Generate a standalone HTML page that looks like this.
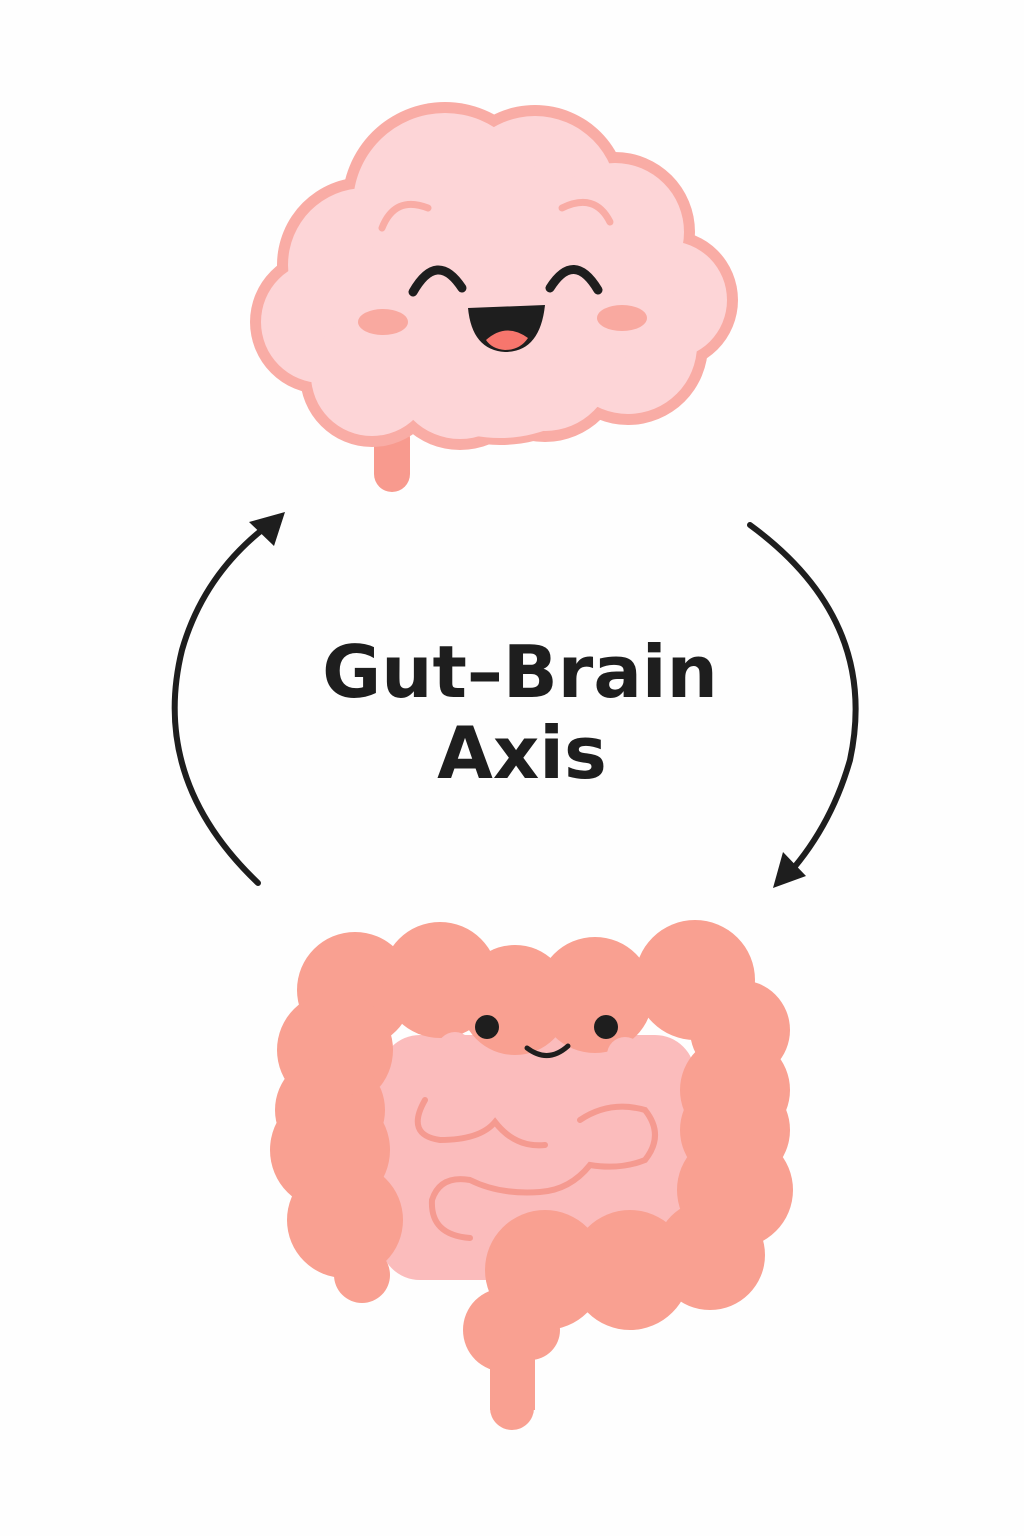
<!DOCTYPE html>
<html><head><meta charset="utf-8"><style>
html,body{margin:0;padding:0;background:#fefefe;}
svg{display:block;}
</style></head><body>
<svg width="1024" height="1536" viewBox="0 0 1024 1536" xmlns="http://www.w3.org/2000/svg">
<rect width="1024" height="1536" fill="#fefefe"/>
<rect x="374" y="420" width="36" height="72" rx="18" fill="#f89a8e"/>
<g fill="#f9aca5">
<circle cx="445" cy="205" r="103"/><circle cx="535" cy="198" r="93"/><circle cx="615" cy="232" r="80"/>
<circle cx="365" cy="265" r="88"/><circle cx="322" cy="322" r="72"/><circle cx="668" cy="300" r="70"/>
<circle cx="372" cy="375" r="72"/><circle cx="460" cy="372" r="78"/><circle cx="545" cy="362" r="80"/>
<circle cx="628" cy="345" r="80"/><circle cx="500" cy="300" r="145"/>
</g>
<g fill="#fdd5d7">
<circle cx="445" cy="205" r="92"/><circle cx="535" cy="198" r="82"/><circle cx="615" cy="232" r="69"/>
<circle cx="365" cy="265" r="77"/><circle cx="322" cy="322" r="61"/><circle cx="668" cy="300" r="59"/>
<circle cx="372" cy="375" r="61"/><circle cx="460" cy="372" r="67"/><circle cx="545" cy="362" r="69"/>
<circle cx="628" cy="345" r="69"/><circle cx="500" cy="300" r="138"/>
</g>
<path d="M382 228 Q395 195 428 208" fill="none" stroke="#f9aca5" stroke-width="7" stroke-linecap="round"/>
<path d="M562 208 Q595 192 610 222" fill="none" stroke="#f9aca5" stroke-width="7" stroke-linecap="round"/>
<path d="M413 292 Q437 250 462 288" fill="none" stroke="#1e1e1e" stroke-width="9" stroke-linecap="round"/>
<path d="M550 288 Q574 250 598 290" fill="none" stroke="#1e1e1e" stroke-width="9" stroke-linecap="round"/>
<ellipse cx="383" cy="322" rx="25" ry="13" fill="#f9a9a0"/>
<ellipse cx="622" cy="318" rx="25" ry="13" fill="#f9a9a0"/>
<path d="M468 308 L545 305 Q540 352 505 352 Q472 350 468 308 Z" fill="#1e1e1e"/>
<path d="M486 340 Q506 322 528 338 Q520 350 505 350 Q492 349 486 340Z" fill="#f7766d"/>
<path d="M258 883 Q150 780 182 650 Q205 570 275 520" fill="none" stroke="#1e1e1e" stroke-width="6" stroke-linecap="round"/>
<polygon points="285,512 249,522 274,546" fill="#1e1e1e"/>
<path d="M750 525 Q880 620 850 760 Q830 830 783 880" fill="none" stroke="#1e1e1e" stroke-width="6" stroke-linecap="round"/>
<polygon points="773,888 806,876 783,852" fill="#1e1e1e"/>
<text x="520" y="697" text-anchor="middle" font-family="'DejaVu Sans','Liberation Sans',sans-serif" font-weight="bold" font-size="72" fill="#1e1e1e">Gut–Brain</text>
<text x="522" y="778" text-anchor="middle" font-family="'DejaVu Sans','Liberation Sans',sans-serif" font-weight="bold" font-size="72" fill="#1e1e1e">Axis</text>
<rect x="380" y="1035" width="315" height="245" rx="40" fill="#fbbcbc"/>
<g fill="#f9a091">
<circle cx="355" cy="990" r="58"/><circle cx="440" cy="980" r="58"/><circle cx="515" cy="1000" r="55"/>
<circle cx="595" cy="995" r="58"/><circle cx="695" cy="980" r="60"/><circle cx="740" cy="1030" r="50"/>
<circle cx="335" cy="1050" r="58"/><circle cx="330" cy="1110" r="55"/><circle cx="330" cy="1150" r="60"/>
<circle cx="345" cy="1220" r="58"/><circle cx="362" cy="1275" r="28"/>
<circle cx="735" cy="1090" r="55"/><circle cx="735" cy="1130" r="55"/><circle cx="735" cy="1190" r="58"/><circle cx="710" cy="1255" r="55"/>
<circle cx="630" cy="1270" r="60"/><circle cx="545" cy="1270" r="60"/><circle cx="505" cy="1330" r="42"/>
<circle cx="530" cy="1330" r="30"/>
<rect x="400" y="960" width="320" height="50"/>
<rect x="490" y="1340" width="45" height="70"/>
<circle cx="512" cy="1408" r="22"/>
</g>
<g fill="#fbbcbc"><circle cx="455" cy="1050" r="18"/><circle cx="625" cy="1055" r="18"/></g>
<g fill="none" stroke="#f59a90" stroke-width="6" stroke-linecap="round">
<path d="M425 1100 Q405 1135 440 1140 Q480 1140 495 1122 Q515 1148 545 1145"/>
<path d="M580 1120 Q610 1100 645 1110 Q665 1135 645 1160 Q620 1170 590 1165 Q570 1190 540 1192 Q500 1195 470 1180 Q440 1175 432 1200 Q430 1235 470 1238"/>
</g>
<circle cx="487" cy="1027" r="12" fill="#1e1e1e"/>
<circle cx="606" cy="1027" r="12" fill="#1e1e1e"/>
<path d="M527 1048 Q548 1064 568 1046" fill="none" stroke="#1e1e1e" stroke-width="5" stroke-linecap="round"/>
</svg>
</body></html>
